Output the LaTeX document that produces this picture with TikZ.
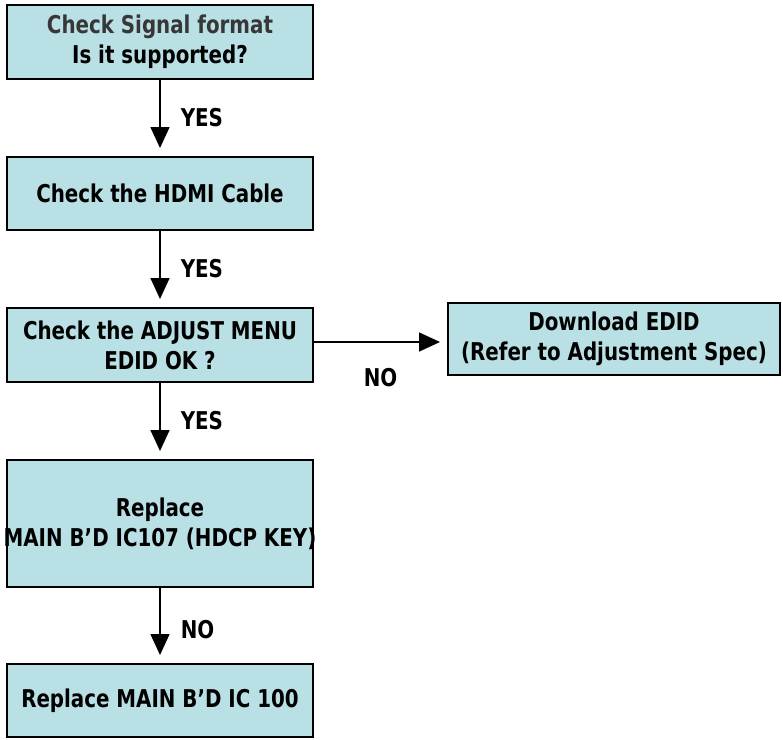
\documentclass[tikz,border=0pt]{standalone}
\usepackage{fontspec}
\setmainfont{DejaVu Sans Condensed}[FakeStretch=0.9]
\usepackage{tikz}
\usetikzlibrary{arrows.meta, positioning}
\definecolor{BoxCyan}{RGB}{185,224,228}
\definecolor{TextGray}{RGB}{55,55,55}

\begin{document}
\begin{tikzpicture}[x=1pt, y=-1pt,
	stepbox/.style={draw, line width=2pt, fill=BoxCyan, minimum width=306pt,
		minimum height=73pt, inner sep=0pt, align=center,
		font=\fontsize{24.5}{30}\selectfont\bfseries},
	flow/.style={line width=1.5pt, -{Triangle[width=19pt,length=21pt]}, shorten >=8pt},
	answer/.style={inner sep=0pt, font=\fontsize{24.5}{28}\selectfont\bfseries}]
	\useasboundingbox (0,0) rectangle (783,739);
	% boxes
	\node[stepbox, minimum height=74pt] (signal) at (160,42) {{\color{TextGray}Check Signal format}\\Is it supported?};
	\node[stepbox] (cable) at (160,193.5) {Check the HDMI Cable};
	\node[stepbox, minimum height=74pt] (menu) at (160,345) {Check the ADJUST MENU\\EDID OK ?};
	\node[stepbox, minimum width=332pt, minimum height=72pt] (edid) at (614,339) {Download EDID\\(Refer to Adjustment Spec)};
	\node[stepbox, minimum height=127pt] (key) at (160,523.5) {Replace\\\makebox[290pt][c]{MAIN B’D IC107 (HDCP KEY)}};
	\node[stepbox] (ic) at (160,700.5) {Replace MAIN B’D IC 100};
	% connectors
	\draw[flow] (signal) -- node[answer, right=20pt] {YES} (cable);
	\draw[flow] (cable) -- node[answer, right=20pt] {YES} (menu);
	\draw[flow] (menu) -- node[answer, right=20pt] {YES} (key);
	\draw[flow] (key) -- node[answer, pos=0.56, right=20pt] {NO} (ic);
	\coordinate (menuout) at ([yshift=3pt]menu.east);
	\draw[flow, shorten >=7pt] (menuout) -- node[answer, below=26pt] {NO} (menuout -| edid.west);
\end{tikzpicture}
\end{document}
